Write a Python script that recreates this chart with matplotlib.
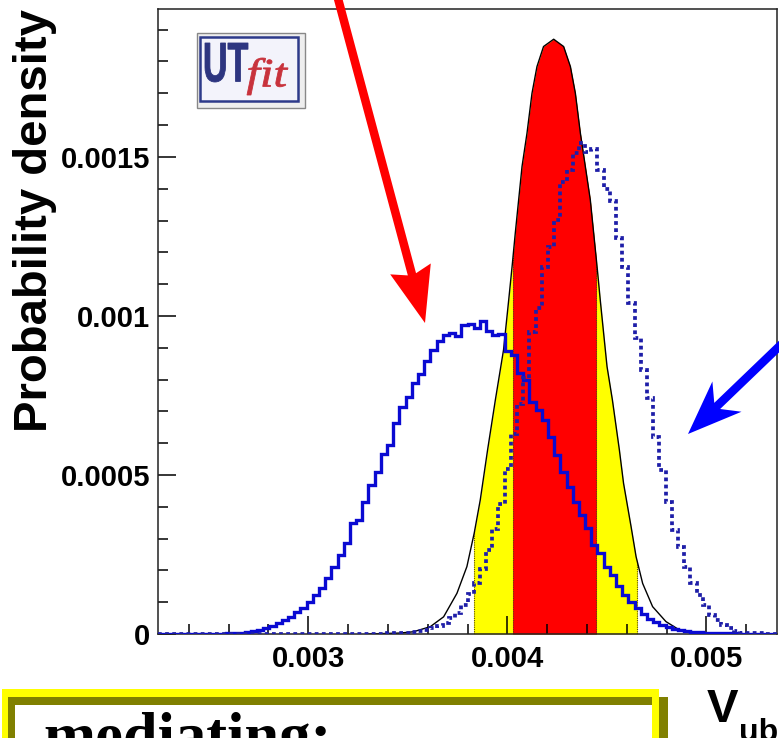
import numpy as np
import matplotlib
matplotlib.use("Agg")
import matplotlib.pyplot as plt
from matplotlib.patches import Rectangle, Polygon, FancyArrow, PathPatch
from matplotlib.textpath import TextPath
from matplotlib.font_manager import FontProperties
from matplotlib.transforms import Affine2D
from matplotlib.ticker import MultipleLocator

plt.rcParams['font.family'] = ['Liberation Sans', 'DejaVu Sans']

# axis range and histogram binning
x_range = (0.002245, 0.005355)
y_range = (0.0, 0.001965)
n_bins = 100

# solid histogram
solid_vals = [
    0, 0, 0, 0, 0, 0, 0, 0, 0, 0,
    0.000001, 0.000002, 0.000003, 0.000004, 0.000006, 0.000008, 0.000012, 0.000018, 0.000026, 0.000035,
    0.000044, 0.000055, 0.000068, 0.000082, 0.000102, 0.000123, 0.000144, 0.000175, 0.000212, 0.000248,
    0.000285, 0.000348, 0.000358, 0.000416, 0.000469, 0.000510, 0.000566, 0.000594, 0.000663, 0.000715,
    0.000745, 0.000788, 0.000818, 0.000859, 0.000893, 0.000922, 0.000940, 0.000946, 0.000938, 0.000972,
    0.000975, 0.000961, 0.000985, 0.000954, 0.000940, 0.000942, 0.000890, 0.000877, 0.000820, 0.000799,
    0.000730, 0.000704, 0.000673, 0.000620, 0.000563, 0.000510, 0.000463, 0.000416, 0.000374, 0.000332,
    0.000280, 0.000254, 0.000210, 0.000184, 0.000152, 0.000124, 0.000100, 0.000083, 0.000062, 0.000048,
    0.000038, 0.000028, 0.000021, 0.000016, 0.000012, 0.000009, 0.000007, 0.000005, 0.000004, 0.000003,
    0.000003, 0.000002, 0.000002, 0.000002, 0.000001, 0.000001, 0.000001, 0.000001, 0.000001, 0.000001,
]

# dotted histogram
dotted_vals = [
    0, 0, 0, 0, 0, 0, 0, 0, 0, 0,
    0, 0, 0, 0, 0, 0, 0, 0, 0, 0,
    0, 0, 0, 0, 0, 0, 0, 0, 0, 0,
    0, 0, 0, 0, 0, 0.000001, 0.000001, 0.000002, 0.000002, 0.000003,
    0.000004, 0.000006, 0.000010, 0.000014, 0.000018, 0.000025, 0.000034, 0.000050, 0.000065, 0.000091,
    0.000125, 0.000160, 0.000205, 0.000265, 0.000330, 0.000410, 0.000520, 0.000628, 0.000722, 0.000805,
    0.000950, 0.001024, 0.001155, 0.001218, 0.001302, 0.001422, 0.001459, 0.001512, 0.001544, 0.001515,
    0.001526, 0.001460, 0.001400, 0.001360, 0.001244, 0.001155, 0.001040, 0.000930, 0.000830, 0.000741,
    0.000620, 0.000516, 0.000416, 0.000327, 0.000275, 0.000212, 0.000159, 0.000123, 0.000091, 0.000060,
    0.000044, 0.000028, 0.000018, 0.000009, 0.000004, 0.000003, 0.000002, 0.000002, 0.000001, 0.000001,
]

# smooth fit curve (black line with coloured bands)
curve_x = [0.003300, 0.003462, 0.003528, 0.003613, 0.003680, 0.003747, 0.003797, 0.003834, 0.003864,
           0.003901, 0.003940, 0.003981, 0.004007, 0.004024, 0.004040, 0.004057, 0.004074, 0.004099,
           0.004124, 0.004149, 0.004182, 0.004233, 0.004283, 0.004317, 0.004342, 0.004367, 0.004392,
           0.004417, 0.004434, 0.004451, 0.004467, 0.004501, 0.004528, 0.004563, 0.004584, 0.004622,
           0.004647, 0.004680, 0.004730, 0.004797, 0.004864, 0.004931, 0.005100]
curve_y = [0.0, 0.000003, 0.000007, 0.000023, 0.000054, 0.000128, 0.000212, 0.000318, 0.000421,
           0.000579, 0.000736, 0.000893, 0.001050, 0.001155, 0.001260, 0.001365, 0.001470, 0.001575,
           0.001700, 0.001784, 0.001847, 0.001870, 0.001847, 0.001784, 0.001700, 0.001575, 0.001470,
           0.001365, 0.001260, 0.001155, 0.001050, 0.000841, 0.000736, 0.000579, 0.000474, 0.000337,
           0.000243, 0.000159, 0.000086, 0.000039, 0.000013, 0.000002, 0.0]

band68 = (0.004029, 0.004446)
band95 = (0.003832, 0.004652)

xticks = [0.003, 0.004, 0.005]
xticklabels = ['0.003', '0.004', '0.005']
yticks = [0, 0.0005, 0.001, 0.0015]
yticklabels = ['0', '0.0005', '0.001', '0.0015']

W, H = 779, 738
fig = plt.figure(figsize=(W / 100, H / 100), dpi=100)
fig.patch.set_facecolor('white')


def inch(x, y):
    # picture pixels (origin top-left) -> inches for dpi_scale_trans
    return x / 100, (H - y) / 100


ax = fig.add_axes([158 / W, 1 - 634 / H, 619 / W, 625 / H])
ax.set_xlim(*x_range)
ax.set_ylim(*y_range)

# bands under the fit curve
fill95 = ax.fill_between(curve_x, curve_y, color='#ffff00', lw=0, zorder=1)
fill95.set_clip_path(Rectangle((band95[0], 0), band95[1] - band95[0], 1, transform=ax.transData))
fill68 = ax.fill_between(curve_x, curve_y, color='#ff0000', lw=0, zorder=1.1)
fill68.set_clip_path(Rectangle((band68[0], 0), band68[1] - band68[0], 1, transform=ax.transData))

outline = Polygon(np.column_stack([curve_x, curve_y]), closed=True, transform=ax.transData)
edges_v = ax.vlines([band95[0], band68[0], band68[1], band95[1]], 0, y_range[1],
                    colors='#5a4a10', linestyles=(0, (1, 1)), lw=0.8, zorder=1.2)
edges_v.set_clip_path(outline)

ax.plot(curve_x, curve_y, color='black', lw=1.0, zorder=2)

edges = np.linspace(x_range[0], x_range[1], n_bins + 1)
ax.stairs(solid_vals, edges, color='#0a0ad2', lw=2.4, zorder=3)
ax.stairs(dotted_vals, edges, color='#1e1ea8', lw=2.7, linestyle=(0, (1.0, 0.9)), zorder=3.1)

# ticks
ax.set_xticks(xticks, labels=xticklabels)
ax.set_yticks(yticks, labels=yticklabels)
ax.xaxis.set_minor_locator(MultipleLocator(0.0002))
ax.yaxis.set_minor_locator(MultipleLocator(0.0001))
ax.tick_params(which='both', direction='in', width=1.1, color='black', top=False, right=False)
ax.tick_params(which='major', length=13)
ax.tick_params(which='minor', length=7)
ax.tick_params(axis='x', pad=8)
ax.tick_params(axis='y', pad=5.5)
for lab in ax.get_xticklabels() + ax.get_yticklabels():
    lab.set_fontsize(21)
    lab.set_fontweight('bold')
for sp in ax.spines.values():
    sp.set_linewidth(1.1)
    sp.set_color('#222222')

# axis titles
fig.text(35 / W, 1 - 221 / H, 'Probability density', rotation=90, ha='center', va='center',
         fontsize=34, fontweight='bold')
fig.text(707 / W, 1 - 722 / H, 'V', ha='left', va='baseline', fontsize=34, fontweight='bold')
fig.text(739 / W, 1 - 741 / H, 'ub', ha='left', va='baseline', fontsize=23, fontweight='bold')

# UTfit logo
tr = fig.dpi_scale_trans
x0, y0 = inch(197, 108)
fig.add_artist(Rectangle((x0, y0), 1.08, 0.75, transform=tr, facecolor='#eeeeee',
                         edgecolor='#888888', lw=1))
x0, y0 = inch(200, 101)
fig.add_artist(Rectangle((x0, y0), 0.98, 0.64, transform=tr, facecolor='#f3f3fb',
                         edgecolor='#2d3a8a', lw=1.8))


def text_in_box(s, left, top, right, bottom, color, prop):
    tp = TextPath((0, 0), s, size=1, prop=prop)
    bb = tp.get_extents()
    sx = (right - left) / 100 / bb.width
    sy = (bottom - top) / 100 / bb.height
    bx, by = inch(left, bottom)
    t = Affine2D().translate(-bb.x0, -bb.y0).scale(sx, sy).translate(bx, by) + fig.dpi_scale_trans
    fig.add_artist(PathPatch(tp, transform=t, facecolor=color, edgecolor=color, lw=0.6))


text_in_box('UT', 205, 43, 248, 82, '#2d3580', FontProperties(family='Liberation Sans', weight='bold'))
text_in_box('fit', 247, 58, 288, 95, '#c8323c', FontProperties(family='Liberation Serif', style='italic'))

# arrows
sx_, sy_ = inch(333, -20)
tx_, ty_ = inch(425, 323)
fig.add_artist(FancyArrow(sx_, sy_, tx_ - sx_, ty_ - sy_, width=0.085, head_width=0.42,
                          head_length=0.56, length_includes_head=True, overhang=0.1,
                          color='#ff0000', lw=0, transform=tr, zorder=10))
sx_, sy_ = inch(815, 312)
tx_, ty_ = inch(688, 434)
fig.add_artist(FancyArrow(sx_, sy_, tx_ - sx_, ty_ - sy_, width=0.085, head_width=0.42,
                          head_length=0.54, length_includes_head=True, overhang=0.25,
                          color='#0000ff', lw=0, transform=tr, zorder=10))

# yellow text box at the bottom
for (l, t, r, fc) in [(8, 697, 668, '#808000'), (2, 689, 659, '#ffff00'),
                      (8, 697, 652, '#808000'), (15, 705, 652, 'white')]:
    bx, by = inch(l, 780)
    fig.add_artist(Rectangle((bx, by), (r - l) / 100, (780 - t) / 100, transform=tr,
                             facecolor=fc, lw=0))
fig.text(43 / W, 1 - 756 / H, 'mediating:', ha='left', va='baseline', fontsize=45,
         fontweight='bold', family=['Liberation Serif', 'DejaVu Serif'])

fig.savefig('out.png', dpi=100)
